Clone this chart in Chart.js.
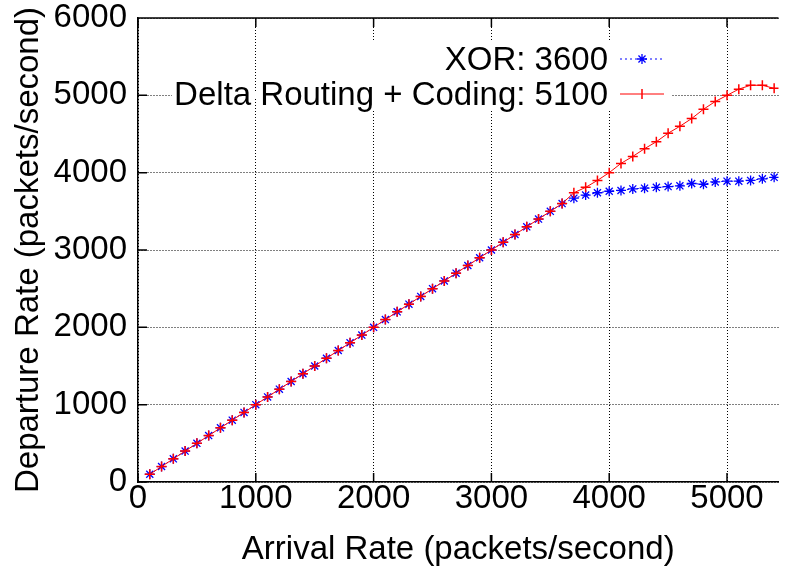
<!DOCTYPE html>
<html>
<head>
<meta charset="utf-8">
<title>Departure vs Arrival Rate</title>
<script src="https://cdn.jsdelivr.net/npm/chart.js@4.4.1/dist/chart.umd.min.js"></script>
<style>
  html, body { margin: 0; padding: 0; background: #fff; }
  canvas { display: block; }
</style>
</head>
<body>
<canvas id="rateChart" width="785" height="573"></canvas>
<script>
// ── Data ─────────────────────────────────────────────────────
const arrivalRate = [
    100, 200, 300, 400, 500, 600, 700, 800, 900, 1000,
    1100, 1200, 1300, 1400, 1500, 1600, 1700, 1800, 1900, 2000,
    2100, 2200, 2300, 2400, 2500, 2600, 2700, 2800, 2900, 3000,
    3100, 3200, 3300, 3400, 3500, 3600, 3700, 3800, 3900, 4000,
    4100, 4200, 4300, 4400, 4500, 4600, 4700, 4800, 4900, 5000,
    5100, 5200, 5300, 5400
];
const xorRate = [
    100, 200, 300, 400, 500, 600, 700, 800, 900, 1000,
    1100, 1200, 1300, 1400, 1500, 1600, 1700, 1800, 1900, 2000,
    2100, 2200, 2300, 2400, 2500, 2600, 2700, 2800, 2900, 3000,
    3100, 3200, 3300, 3400, 3500, 3600, 3670, 3710, 3740, 3760,
    3770, 3790, 3800, 3810, 3820, 3830, 3860, 3850, 3880, 3890,
    3890, 3900, 3920, 3940
];
const deltaRate = [
    100, 200, 300, 400, 500, 600, 700, 800, 900, 1000,
    1100, 1200, 1300, 1400, 1500, 1600, 1700, 1800, 1900, 2000,
    2100, 2200, 2300, 2400, 2500, 2600, 2700, 2800, 2900, 3000,
    3100, 3200, 3300, 3400, 3500, 3600, 3740, 3810, 3900, 4000,
    4120, 4210, 4310, 4400, 4510, 4600, 4700, 4820, 4920, 5000,
    5080, 5130, 5130, 5090
];
const xTicks = [0, 1000, 2000, 3000, 4000, 5000];
const yTicks = [0, 1000, 2000, 3000, 4000, 5000, 6000];
const seriesLabels = ['XOR: 3600', 'Delta Routing + Coding: 5100'];

const FONT = 'Liberation Sans, Arial, Helvetica, sans-serif';
const FSIZE = 33;

// ── Inward tick marks + top border (gnuplot look) ────────────
const frameTicks = {
    id: 'frameTicks',
    beforeDatasetsDraw(chart) {
        const { ctx, chartArea: a, scales } = chart;
        ctx.save();
        ctx.strokeStyle = '#000';
        ctx.lineWidth = 1.5;
        ctx.beginPath();
        ctx.moveTo(a.left, a.top);
        ctx.lineTo(a.right, a.top);
        xTicks.forEach(v => {
            const x = scales.x.getPixelForValue(v);
            ctx.moveTo(x, a.bottom); ctx.lineTo(x, a.bottom - 9);
            ctx.moveTo(x, a.top);    ctx.lineTo(x, a.top + 9);
        });
        yTicks.forEach(v => {
            const y = scales.y.getPixelForValue(v);
            ctx.moveTo(a.left, y); ctx.lineTo(a.left + 9, y);
        });
        ctx.stroke();
        ctx.restore();
    }
};

// ── Key: text first, then line sample with marker ────────────
const keyBox = {
    id: 'keyBox',
    afterDraw(chart) {
        const ctx = chart.ctx;
        ctx.save();
        ctx.fillStyle = '#fff';
        ctx.fillRect(265, 42, 407, 68);
        ctx.fillRect(172, 93, 100, 6);

        ctx.fillStyle = '#000';
        ctx.font = FSIZE + 'px ' + FONT;
        ctx.textAlign = 'right';
        ctx.textBaseline = 'alphabetic';
        ctx.fillText(seriesLabels[0], 608, 70);
        ctx.fillText(seriesLabels[1], 608, 105);

        // blue dotted sample + asterisk
        ctx.lineWidth = 1;
        ctx.strokeStyle = '#0000ff';
        ctx.setLineDash([2, 3]);
        ctx.beginPath();
        ctx.moveTo(620, 59); ctx.lineTo(664, 59);
        ctx.stroke();
        ctx.setLineDash([]);
        const r = 5, d = r * Math.SQRT1_2;
        ctx.lineWidth = 1.3;
        ctx.beginPath();
        ctx.moveTo(642 - r, 59); ctx.lineTo(642 + r, 59);
        ctx.moveTo(642, 59 - r); ctx.lineTo(642, 59 + r);
        ctx.moveTo(642 - d, 59 - d); ctx.lineTo(642 + d, 59 + d);
        ctx.moveTo(642 - d, 59 + d); ctx.lineTo(642 + d, 59 - d);
        ctx.stroke();

        // red solid sample + plus
        ctx.strokeStyle = '#ff0000';
        ctx.lineWidth = 1;
        ctx.beginPath();
        ctx.moveTo(620, 94); ctx.lineTo(664, 94);
        ctx.stroke();
        ctx.lineWidth = 1.5;
        ctx.beginPath();
        ctx.moveTo(642, 94 - r); ctx.lineTo(642, 94 + r);
        ctx.stroke();
        ctx.restore();
    }
};

const toPoints = ys => arrivalRate.map((x, i) => ({ x: x, y: ys[i] }));
const plainTick = v => String(v);

new Chart(document.getElementById('rateChart').getContext('2d'), {
    type: 'line',
    data: {
        datasets: [{
            label: seriesLabels[1],
            data: toPoints(deltaRate),
            order: 0,
            borderColor: '#ff0000',
            borderWidth: 1,
            pointStyle: 'cross',
            pointRadius: 5,
            pointBorderWidth: 1.5,
            pointBorderColor: '#ff0000',
            pointBackgroundColor: '#ff0000',
            tension: 0,
            fill: false
        }, {
            label: seriesLabels[0],
            data: toPoints(xorRate),
            order: 1,
            borderColor: '#0000ff',
            borderWidth: 1,
            borderDash: [2, 3],
            pointStyle: 'star',
            pointRadius: 5,
            pointBorderWidth: 1.3,
            pointBorderColor: '#0000ff',
            pointBackgroundColor: '#0000ff',
            tension: 0,
            fill: false
        }]
    },
    options: {
        responsive: false,
        animation: false,
        layout: { padding: { top: 18, left: 0, right: 0, bottom: 0 } },
        plugins: {
            legend: { display: false },
            tooltip: { enabled: false }
        },
        scales: {
            x: {
                type: 'linear',
                min: 0,
                max: 5437,
                afterBuildTicks: s => { s.ticks = xTicks.map(v => ({ value: v })); },
                afterFit: s => {
                    s.height = 91;
                    s.paddingLeft = 0;
                    s.paddingRight = 0;
                },
                ticks: {
                    color: '#000',
                    padding: 0,
                    maxRotation: 0,
                    callback: plainTick,
                    font: { family: FONT, size: FSIZE, lineHeight: 1 }
                },
                grid: {
                    color: '#000',
                    lineWidth: 1,
                    drawTicks: false
                },
                border: { display: true, color: '#000', width: 1.5, dash: [1, 2] },
                title: {
                    display: true,
                    text: 'Arrival Rate (packets/second)',
                    color: '#000',
                    padding: { top: 0, bottom: 7 },
                    font: { family: FONT, size: FSIZE, lineHeight: 1 }
                }
            },
            y: {
                type: 'linear',
                min: 0,
                max: 6000,
                afterBuildTicks: s => { s.ticks = yTicks.map(v => ({ value: v })); },
                afterFit: s => {
                    s.width = 138;
                    s.paddingTop = 0;
                    s.paddingBottom = 0;
                },
                ticks: {
                    color: '#000',
                    padding: 11,
                    callback: plainTick,
                    font: { family: FONT, size: FSIZE, lineHeight: 1 }
                },
                grid: {
                    color: '#000',
                    lineWidth: 1,
                    drawTicks: false
                },
                border: { display: true, color: '#000', width: 1.5, dash: [1, 2] },
                title: {
                    display: true,
                    text: 'Departure Rate (packets/second)',
                    color: '#000',
                    padding: { top: 12, bottom: 0 },
                    font: { family: FONT, size: FSIZE, lineHeight: 1 }
                }
            }
        }
    },
    plugins: [frameTicks, keyBox]
});
</script>
</body>
</html>
